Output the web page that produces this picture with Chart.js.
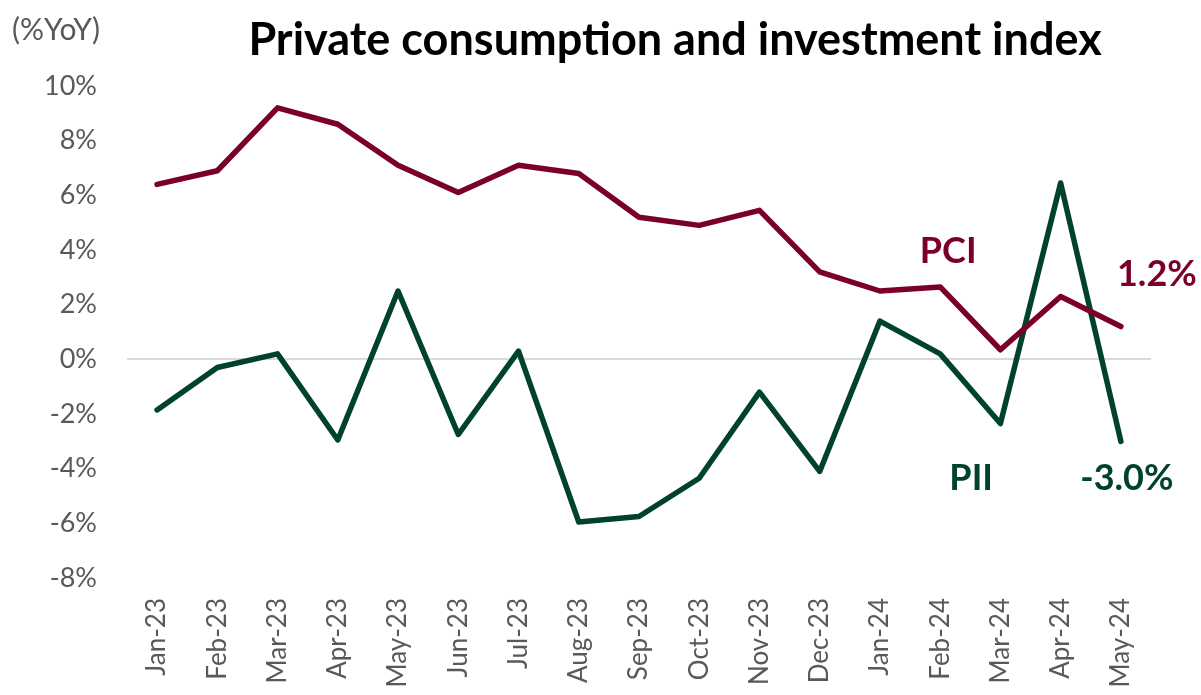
<!DOCTYPE html>
<html>
<head>
<meta charset="utf-8">
<script src="https://cdn.jsdelivr.net/npm/chart.js@4/dist/chart.umd.min.js"></script>
<style>
  html, body { margin: 0; padding: 0; background: #fff; }
  #wrap { width: 1201px; height: 695px; position: relative; }
</style>
</head>
<body>
<div id="wrap"><canvas id="chart"></canvas></div>
<script>
// months on the x axis
const months = ['Jan-23', 'Feb-23', 'Mar-23', 'Apr-23', 'May-23', 'Jun-23', 'Jul-23', 'Aug-23',
  'Sep-23', 'Oct-23', 'Nov-23', 'Dec-23', 'Jan-24', 'Feb-24', 'Mar-24', 'Apr-24', 'May-24'];

// private consumption index, %YoY
const pci = [6.4, 6.9, 9.2, 8.6, 7.1, 6.1, 7.1, 6.8, 5.2, 4.9, 5.45, 3.2, 2.5, 2.65, 0.35, 2.3, 1.2];
// private investment index, %YoY
const pii = [-1.85, -0.3, 0.2, -2.95, 2.5, -2.75, 0.3, -5.95, -5.75, -4.35, -1.2, -4.1, 1.4, 0.2, -2.35, 6.45, -3.0];

const yTicks = [-8, -6, -4, -2, 0, 2, 4, 6, 8, 10];

const red = '#7a0026';
const green = '#00432a';
const tickColor = '#595959';
const fontFamily = 'Lato, "Open Sans", sans-serif';

// text labels placed on the chart (category index + value, small pixel nudge)
const notes = [
  { text: 'PCI', idx: 13, val: 3.95, dx: 8, color: red },
  { text: '1.2%', idx: 16, val: 3.1, dx: 36, color: red },
  { text: 'PII', idx: 13, val: -4.35, dx: 31, color: green },
  { text: '-3.0%', idx: 16, val: -4.35, dx: 6, color: green }
];

const textPlugin = {
  id: 'textPlugin',
  afterDraw(chart) {
    const { ctx, scales } = chart;
    ctx.save();
    // title
    ctx.fillStyle = '#000';
    ctx.font = 'bold 45px ' + fontFamily;
    ctx.textAlign = 'center';
    ctx.textBaseline = 'middle';
    ctx.fillText('Private consumption and investment index', 675, 40);
    // unit
    ctx.fillStyle = tickColor;
    ctx.font = '30px ' + fontFamily;
    ctx.textAlign = 'left';
    ctx.fillText('(%YoY)', 12, 30);
    // line labels
    ctx.font = 'bold 36px ' + fontFamily;
    ctx.textAlign = 'center';
    notes.forEach(n => {
      ctx.fillStyle = n.color;
      ctx.fillText(n.text, scales.x.getPixelForValue(n.idx) + n.dx, scales.y.getPixelForValue(n.val));
    });
    ctx.restore();
  }
};

new Chart(document.getElementById('chart'), {
  type: 'line',
  data: {
    labels: months,
    datasets: [
      { label: 'PCI', data: pci, borderColor: red, backgroundColor: red, borderWidth: 5.5, pointRadius: 0, tension: 0, borderCapStyle: 'round', borderJoinStyle: 'round' },
      { label: 'PII', data: pii, borderColor: green, backgroundColor: green, borderWidth: 5.5, pointRadius: 0, tension: 0, borderCapStyle: 'round', borderJoinStyle: 'round' }
    ]
  },
  options: {
    responsive: true,
    maintainAspectRatio: false,
    animation: false,
    layout: { padding: { top: 86, right: 50, left: 14, bottom: 0 } },
    plugins: {
      legend: { display: false },
      tooltip: { enabled: false },
      title: { display: false }
    },
    scales: {
      x: {
        type: 'category',
        offset: true,
        grid: { display: false, drawTicks: false },
        border: { display: false },
        afterFit(scale) {
          scale.height = 117;
        },
        ticks: {
          color: tickColor,
          font: { family: fontFamily, size: 26 },
          minRotation: 90,
          maxRotation: 90,
          padding: 20,
          autoSkip: false
        }
      },
      y: {
        min: -8,
        max: 10,
        afterBuildTicks(scale) {
          scale.ticks = yTicks.map(v => ({ value: v }));
        },
        grid: {
          drawTicks: false,
          color: ctx => (ctx.tick && ctx.tick.value === 0 ? '#d9d9d9' : 'rgba(0,0,0,0)'),
          lineWidth: 2
        },
        border: { display: false },
        ticks: {
          color: tickColor,
          font: { family: fontFamily, size: 27 },
          padding: 30,
          callback: v => v + '%'
        }
      }
    }
  },
  plugins: [textPlugin]
});
</script>
</body>
</html>
